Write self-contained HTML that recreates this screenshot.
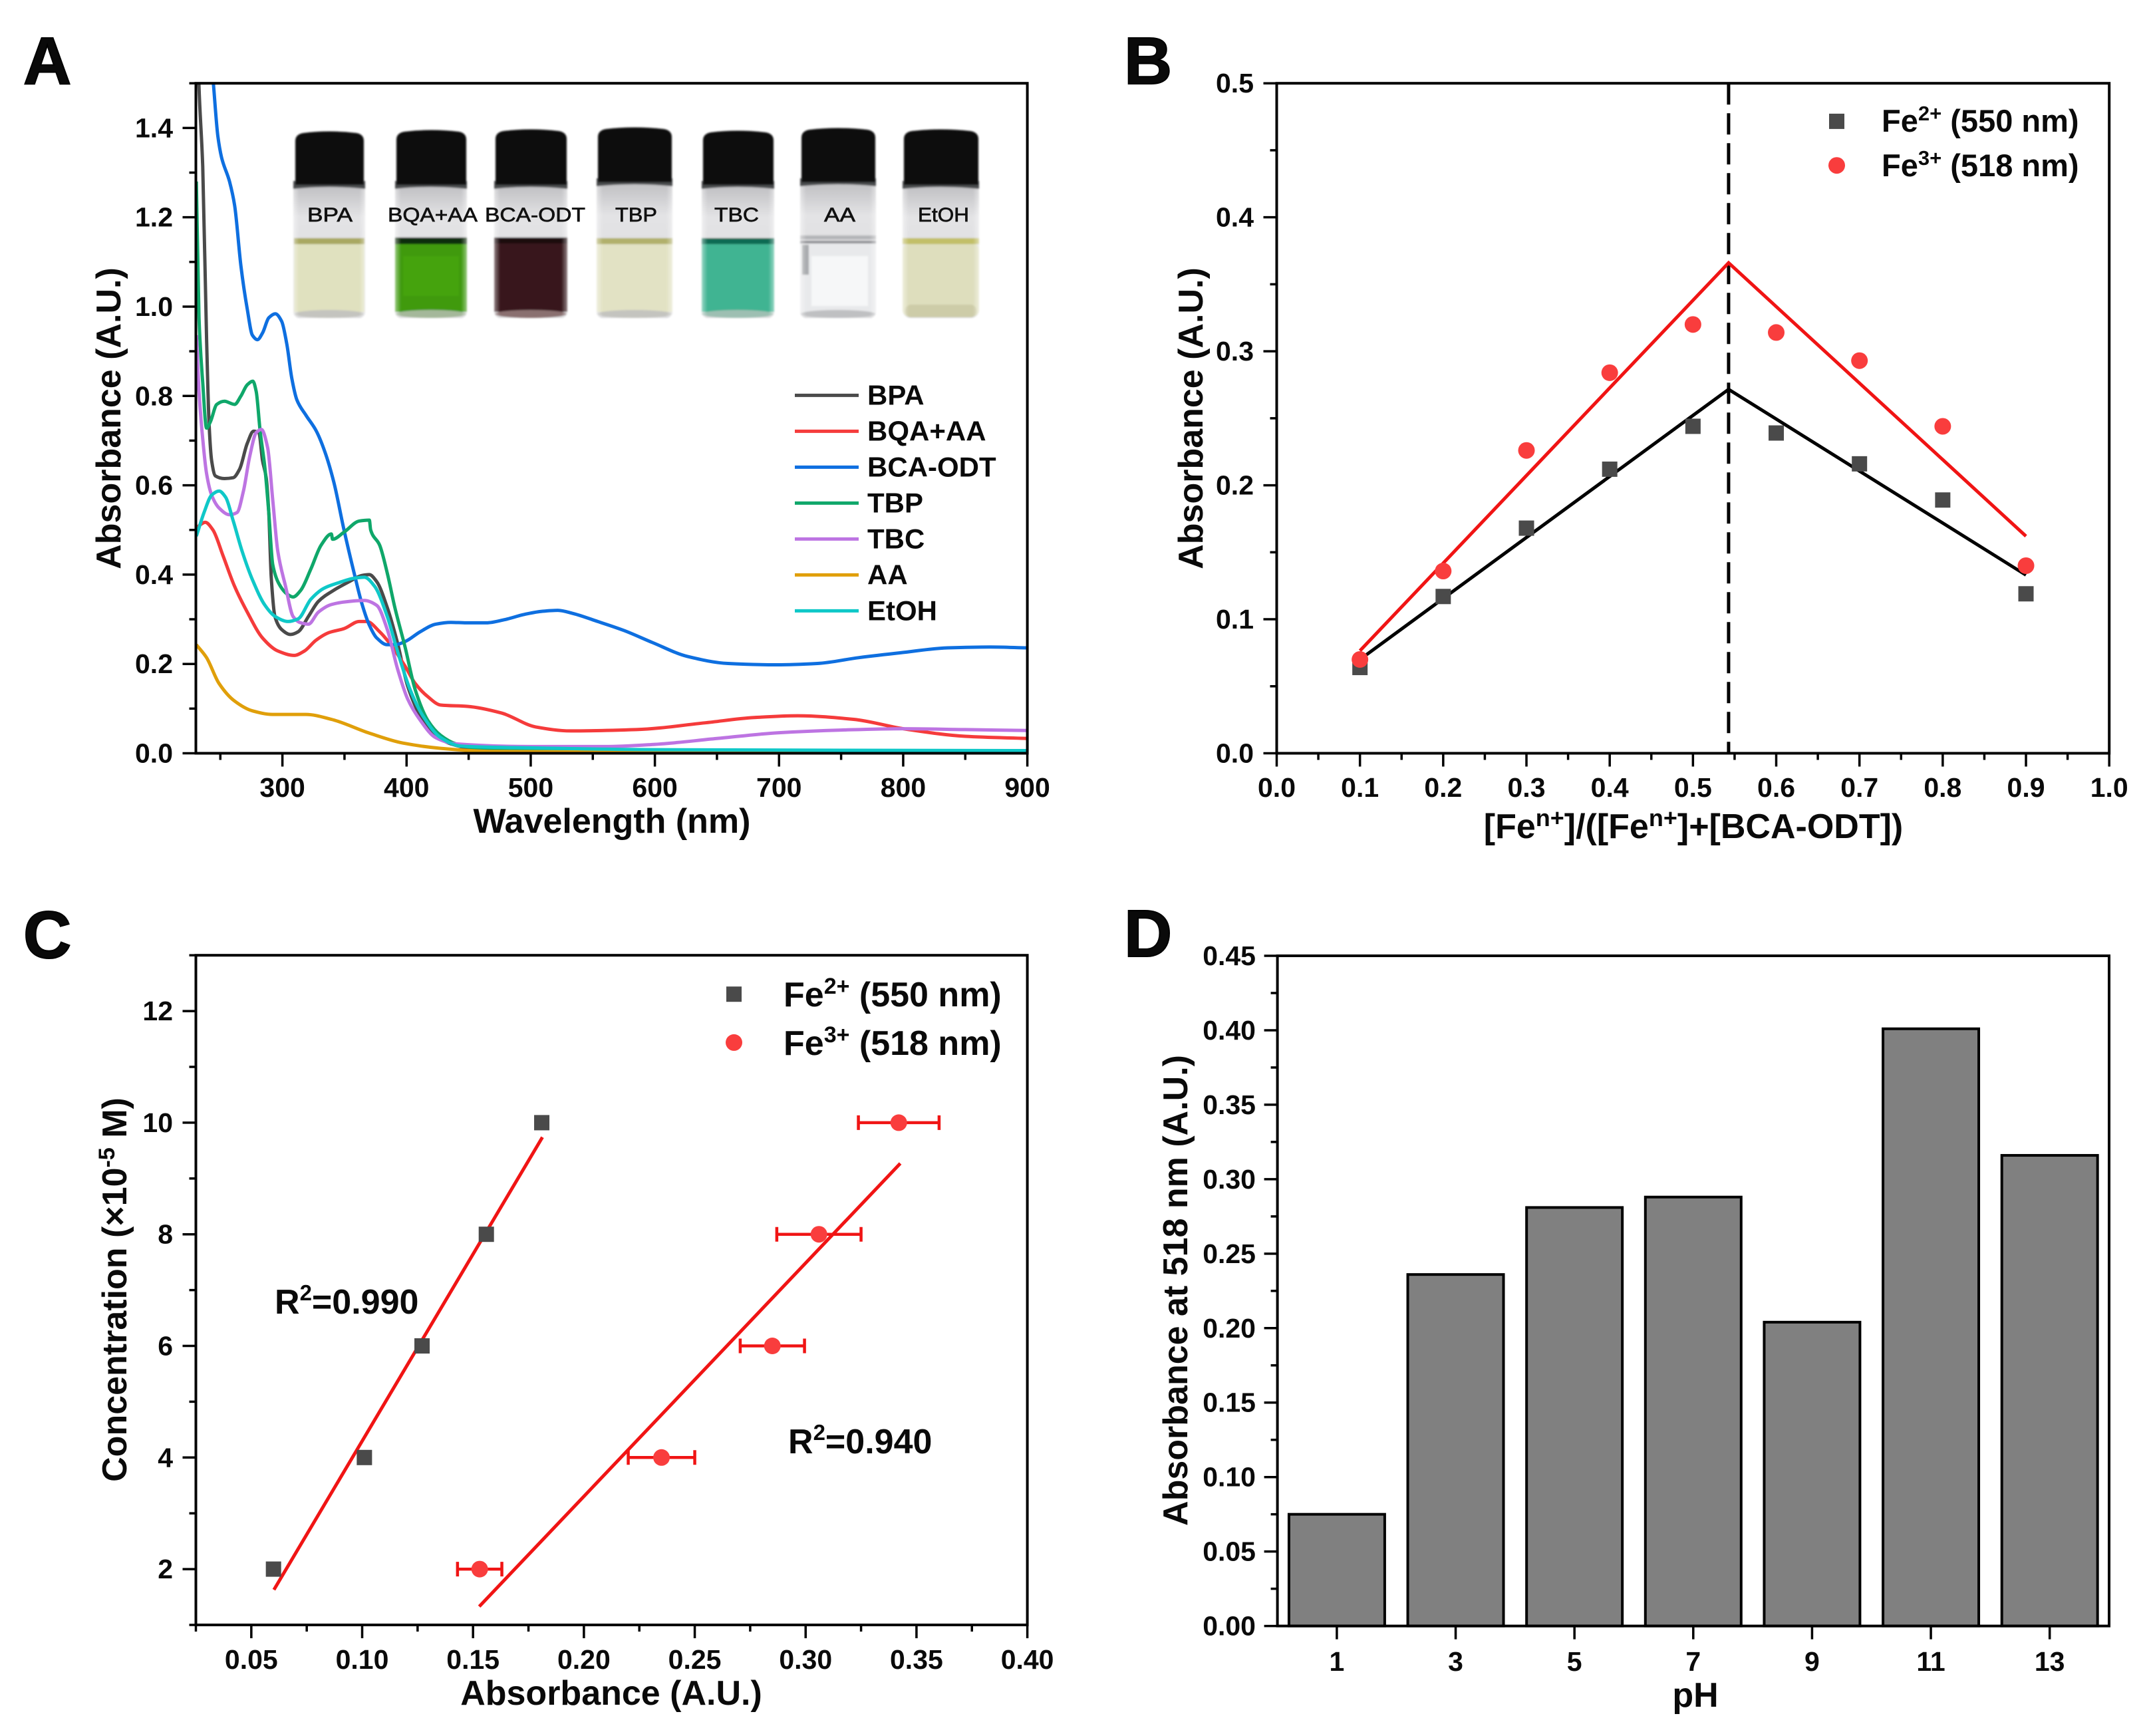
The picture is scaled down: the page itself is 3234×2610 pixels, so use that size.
<!DOCTYPE html>
<html lang="en">
<head>
<meta charset="utf-8">
<title>Absorbance figure panels A-D</title>
<style>
html,body{margin:0;padding:0;background:#fff;}
svg{display:block;}
text{font-family:"Liberation Sans",Arial,sans-serif;fill:#0a0a0a;}
.b{font-weight:700;}
.t{font-weight:700;font-size:41px;}
.l{font-weight:700;font-size:52px;}
.p{font-weight:700;font-size:100px;stroke:#000;stroke-width:2px;}
.v{font-size:30px;fill:#111;stroke:#111;stroke-width:.7px;}
.cap{fill:#0d0d0f;}
.neck{fill:#4a4b4e;}
.glass{fill:#dfdfe1;}
.base{fill:#c4c4bf;}
</style>
</head>
<body>
<svg id="fig" xmlns="http://www.w3.org/2000/svg" width="3234" height="2610" viewBox="0 0 3234 2610">
  <defs>
    <clipPath id="clipA"><rect x="294.5" y="125.2" width="1250.1" height="1007.3"/></clipPath>
    <linearGradient id="sheen" x1="0" x2="1" y1="0" y2="0">
      <stop offset="0" stop-color="#fff" stop-opacity=".45"/>
      <stop offset=".08" stop-color="#fff" stop-opacity="0"/>
      <stop offset=".92" stop-color="#fff" stop-opacity="0"/>
      <stop offset="1" stop-color="#fff" stop-opacity=".45"/>
    </linearGradient>
    <linearGradient id="head" x1="0" x2="0" y1="0" y2="1">
      <stop offset="0" stop-color="#bdbdc0"/>
      <stop offset=".25" stop-color="#e3e3e5"/>
      <stop offset="1" stop-color="#dadadc"/>
    </linearGradient>
    <filter id="soft" x="-5%" y="-5%" width="110%" height="110%"><feGaussianBlur stdDeviation="1.4"/></filter>
  </defs>
  <rect x="0" y="0" width="3234" height="2610" fill="#fff"/>

  <text class="p" x="35" y="126">A</text>
  <text class="p" x="1690" y="126">B</text>
  <text class="p" x="35" y="1440">C</text>
  <text class="p" x="1690" y="1438">D</text>

  <g id="panelA"></g>
  <g id="panelB"></g>
  <g id="panelC"></g>
  <g id="panelD"></g>

  <!-- Vial photographs, panel A inset -->
  <g>
    <g filter="url(#soft)">
      <rect x="441" y="276" width="108" height="202" rx="9" fill="url(#head)"/>
      <rect x="442" y="366" width="106" height="103" fill="#e0e1bf"/>
      <rect x="442" y="358" width="106" height="9" fill="#a9a862"/>
      <ellipse class="base" cx="495" cy="472" rx="52" ry="6"/>
      <rect x="441" y="276" width="108" height="202" rx="9" fill="url(#sheen)"/>
      <path class="neck" d="M441 272H549V284Q495 278 441 284Z"/>
      <path class="cap" d="M444 278V212Q444 202 456 200Q495 195 536 200Q547 202 547 212V278Z"/>
    </g>
    <g filter="url(#soft)">
      <rect x="594" y="276" width="108" height="202" rx="9" fill="url(#head)"/>
      <rect x="594" y="366" width="108" height="103" fill="#3f9a0f"/>
      <rect x="594" y="357" width="108" height="10" fill="#0f2d0a"/>
      <rect x="606" y="385" width="84" height="60" fill="#47a512" opacity=".8"/>
      <ellipse class="base" cx="648" cy="472" rx="53" ry="6" fill="#a4b89a" style="fill:#a4b89a"/>
      <rect x="594" y="276" width="108" height="202" rx="9" fill="url(#sheen)"/>
      <path class="neck" d="M594 272H702V284Q648 278 594 284Z"/>
      <path class="cap" d="M596 278V210Q596 200 608 198Q648 193 690 198Q701 200 701 210V278Z"/>
    </g>
    <g filter="url(#soft)">
      <rect x="743" y="276" width="110" height="202" rx="9" fill="url(#head)"/>
      <rect x="743" y="364" width="110" height="105" fill="#38191d"/>
      <rect x="743" y="357" width="110" height="9" fill="#1b0b0d"/>
      <ellipse cx="798" cy="472" rx="54" ry="6" fill="#8a6f70"/>
      <rect x="743" y="276" width="110" height="202" rx="9" fill="url(#sheen)"/>
      <path class="neck" d="M743 272H853V284Q798 278 743 284Z"/>
      <path class="cap" d="M745 278V209Q745 199 757 197Q798 192 840 197Q852 199 852 209V278Z"/>
    </g>
    <g filter="url(#soft)">
      <rect x="897" y="272" width="114" height="206" rx="9" fill="url(#head)"/>
      <rect x="897" y="366" width="114" height="103" fill="#e2e2c4"/>
      <rect x="897" y="358" width="114" height="9" fill="#b1b06c"/>
      <ellipse class="base" cx="954" cy="472" rx="56" ry="6"/>
      <rect x="897" y="272" width="114" height="206" rx="9" fill="url(#sheen)"/>
      <path class="neck" d="M897 268H1011V280Q954 274 897 280Z"/>
      <path class="cap" d="M899 274V206Q899 196 911 194Q954 189 998 194Q1010 196 1010 206V274Z"/>
    </g>
    <g filter="url(#soft)">
      <rect x="1055" y="276" width="109" height="202" rx="9" fill="url(#head)"/>
      <rect x="1055" y="366" width="109" height="103" fill="#3fb492"/>
      <rect x="1055" y="358" width="109" height="9" fill="#0e6a52"/>
      <ellipse cx="1109" cy="472" rx="54" ry="6" fill="#9dbfb2"/>
      <rect x="1055" y="276" width="109" height="202" rx="9" fill="url(#sheen)"/>
      <path class="neck" d="M1055 272H1164V284Q1109 278 1055 284Z"/>
      <path class="cap" d="M1057 278V211Q1057 201 1069 199Q1109 194 1151 199Q1163 201 1163 211V278Z"/>
    </g>
    <g filter="url(#soft)">
      <rect x="1203" y="272" width="114" height="206" rx="9" fill="url(#head)"/>
      <rect x="1203" y="366" width="114" height="105" fill="#e8e9eb"/>
      <rect x="1203" y="354" width="114" height="6" fill="#b4b5b8"/>
      <rect x="1203" y="362" width="114" height="4" fill="#8f9094"/>
      <rect x="1206" y="368" width="10" height="45" fill="#8f9094" opacity=".7"/>
      <rect x="1220" y="385" width="85" height="75" fill="#f6f7f8"/>
      <ellipse cx="1260" cy="472" rx="56" ry="6" fill="#bfc0c2"/>
      <rect x="1203" y="272" width="114" height="206" rx="9" fill="url(#sheen)"/>
      <path class="neck" d="M1203 268H1317V280Q1260 274 1203 280Z"/>
      <path class="cap" d="M1205 274V207Q1205 197 1217 195Q1260 190 1304 195Q1316 197 1316 207V274Z"/>
    </g>
    <g filter="url(#soft)">
      <rect x="1357" y="276" width="115" height="202" rx="12" fill="url(#head)"/>
      <rect x="1357" y="366" width="115" height="110" rx="10" fill="#dedebd"/>
      <rect x="1357" y="358" width="115" height="9" fill="#c2bf68"/>
      <rect x="1361" y="458" width="107" height="19" rx="9" fill="#cdcca8"/>
      <rect x="1357" y="276" width="115" height="202" rx="12" fill="url(#sheen)"/>
      <path class="neck" d="M1357 272H1472V284Q1414 278 1357 284Z"/>
      <path class="cap" d="M1359 278V209Q1359 199 1371 197Q1414 192 1459 197Q1471 199 1471 209V278Z"/>
    </g>
    <text class="v" x="462" y="333" textLength="68" lengthAdjust="spacingAndGlyphs">BPA</text>
    <text class="v" x="583" y="333" textLength="135" lengthAdjust="spacingAndGlyphs">BQA+AA</text>
    <text class="v" x="729" y="333" textLength="151" lengthAdjust="spacingAndGlyphs">BCA-ODT</text>
    <text class="v" x="925" y="333" textLength="63" lengthAdjust="spacingAndGlyphs">TBP</text>
    <text class="v" x="1074" y="333" textLength="67" lengthAdjust="spacingAndGlyphs">TBC</text>
    <text class="v" x="1239" y="333" textLength="47" lengthAdjust="spacingAndGlyphs">AA</text>
    <text class="v" x="1380" y="333" textLength="77" lengthAdjust="spacingAndGlyphs">EtOH</text>
  </g>

  <!-- Axis titles -->
  <text class="l" x="920" y="1252" text-anchor="middle">Wavelength (nm)</text>
  <text class="l" transform="translate(181,629) rotate(-90)" text-anchor="middle">Absorbance (A.U.)</text>
  <text class="l" x="2546" y="1260" text-anchor="middle">[Fe<tspan font-size="36" dy="-18">n+</tspan><tspan dy="18">]/([Fe</tspan><tspan font-size="36" dy="-18">n+</tspan><tspan dy="18">]+[BCA-ODT])</tspan></text>
  <text class="l" transform="translate(1808,629) rotate(-90)" text-anchor="middle">Absorbance (A.U.)</text>
  <text class="l" x="919" y="2563" text-anchor="middle">Absorbance (A.U.)</text>
  <text class="l" transform="translate(190,1939) rotate(-90)" text-anchor="middle">Concentration (×10<tspan font-size="34" dy="-18">-5</tspan><tspan dy="18"> M)</tspan></text>
  <text class="l" x="2549" y="2566" text-anchor="middle">pH</text>
  <text class="l" transform="translate(1785,1940) rotate(-90)" text-anchor="middle">Absorbance at 518 nm (A.U.)</text>

  <!-- Panel B legend text -->
  <text class="b" font-size="47" x="2829" y="198">Fe<tspan font-size="31" dy="-17">2+</tspan><tspan dy="17"> (550 nm)</tspan></text>
  <text class="b" font-size="47" x="2829" y="265">Fe<tspan font-size="31" dy="-17">3+</tspan><tspan dy="17"> (518 nm)</tspan></text>
  <!-- Panel C legend text -->
  <text class="b" font-size="52" x="1178" y="1513">Fe<tspan font-size="34" dy="-19">2+</tspan><tspan dy="19"> (550 nm)</tspan></text>
  <text class="b" font-size="52" x="1178" y="1586">Fe<tspan font-size="34" dy="-19">3+</tspan><tspan dy="19"> (518 nm)</tspan></text>
  <text class="l" x="413" y="1975">R<tspan font-size="33" dy="-20">2</tspan><tspan dy="20">=0.990</tspan></text>
  <text class="l" x="1185" y="2185">R<tspan font-size="33" dy="-20">2</tspan><tspan dy="20">=0.940</tspan></text>
</svg>

<script>
// ---------- Panel A data ----------
const seriesNames = ['BPA', 'BQA+AA', 'BCA-ODT', 'TBP', 'TBC', 'AA', 'EtOH'];
const bpaNm = [231,232.7,235.8,238.9,241,243,246,253.3,260.4,265.5,271.7,276.8,281,284,287,289,291,294,299.4,306.5,312.7,320.9,329,341.4,353.7,364,370,376,384.5,392.6,400.8,411,421.4,435.7,452,500,700,900];
const bpaAbs = [1.7,1.5,1.314,.927,.733,.655,.621,.615,.617,.636,.694,.721,.718,.655,.616,.539,.394,.306,.277,.266,.272,.306,.34,.365,.384,.398,.4,.384,.326,.248,.151,.084,.045,.021,.011,.005,.005,.005];
const bqaNm = [230.7,237.9,244,252.2,261.4,271.7,284,296.3,309.6,317.8,327,337.3,349.6,362,368,378.3,388.6,398.8,407,417,427.5,449,476.6,504,532,585,640,680,715,760,800,850,900];
const bqaAbs = [.505,.517,.5,.442,.374,.316,.258,.229,.219,.229,.253,.27,.279,.295,.295,.272,.238,.195,.156,.127,.108,.105,.09,.059,.05,.053,.068,.08,.084,.076,.055,.038,.033];
const bcaNm = [241,244.4,248,251,257.4,261.5,266.6,271.7,275.8,279.9,284,289,294.3,299.4,303.5,307.6,311.7,318.9,327,334.2,341.4,349.6,357.8,364,370,376,384.5,390.6,398.8,411,423.4,435.7,448,464.4,478.8,495,509.5,521.8,534,554,575,598,626,659,698,731,764,798,836,870,900];
const bcaAbs = [1.62,1.5,1.382,1.334,1.28,1.227,1.09,.994,.936,.926,.941,.975,.984,.967,.917,.839,.791,.757,.723,.675,.607,.5,.403,.335,.287,.258,.243,.243,.25,.272,.289,.293,.292,.292,.299,.311,.318,.32,.313,.295,.275,.248,.217,.201,.198,.201,.214,.225,.236,.238,.236];
const tbpNm = [230.7,232.8,235.8,238.9,242,247.1,253.3,261.5,266.6,271.7,276.2,278.9,282,286,289,292.2,297.3,304.5,308.6,314.8,323,331.2,339.4,340.4,349.6,362,370,371.1,378.3,384.5,390.6,398.8,407,417,427.5,439.8,458,550,900];
const tbpAbs = [1.28,.975,.83,.728,.742,.781,.788,.781,.8,.825,.833,.81,.723,.636,.539,.423,.379,.355,.35,.365,.413,.466,.491,.479,.495,.52,.522,.5,.466,.403,.326,.238,.142,.074,.04,.021,.011,.006,.004];
const tbcNm = [230.7,232.8,235.8,238.9,243,249,257.4,263.5,268.6,273.7,278.9,283,288.1,292.2,296.3,302.5,308.6,314.8,320.9,329,339.4,353.7,366,376,384.5,392.6,400.8,411,423.4,439.8,500,560,600,650,700,750,800,850,900];
const tbcAbs = [.936,.81,.704,.626,.578,.549,.534,.539,.587,.665,.718,.725,.684,.568,.452,.374,.306,.292,.289,.316,.333,.34,.342,.331,.277,.19,.122,.074,.035,.021,.015,.015,.02,.033,.046,.052,.055,.053,.051];
const aaNm = [230.7,238.9,249,261.4,275.8,292,318.9,339.4,370,396.8,427.5,468.5,600,900];
const aaAbs = [.243,.214,.156,.117,.095,.087,.087,.076,.045,.023,.011,.004,.002,.002];
const etohNm = [230.7,236.9,243,249,254.3,260.4,267.6,275.8,286,294.3,304.5,312.7,323,333.2,345.5,357.8,366,374.2,384.5,392.6,402.9,413.1,427.5,443.9,500,600,900];
const etohAbs = [.486,.539,.578,.587,.573,.52,.452,.389,.331,.306,.295,.301,.345,.369,.382,.392,.394,.374,.306,.229,.142,.084,.035,.016,.012,.008,.006];
const aXTicks = [300,400,500,600,700,800,900];
const aXMinor = [250,350,450,550,650,750,850];
const aYTicks = ['0.0','0.2','0.4','0.6','0.8','1.0','1.2','1.4'];
const aYMinor = [0.1,0.3,0.5,0.7,0.9,1.1,1.3,1.5];

// ---------- Panel B data ----------
const bFraction = [0.1,0.2,0.3,0.4,0.5,0.6,0.7,0.8,0.9];
const bFe2 = [0.064,0.117,0.168,0.212,0.244,0.239,0.216,0.189,0.119];
const bFe3 = [0.07,0.136,0.226,0.284,0.32,0.314,0.293,0.244,0.14];
const bFitX = [0.1,0.5428,0.9];
const bFitFe2 = [0.07,0.2716,0.133];
const bFitFe3 = [0.0765,0.366,0.162];
const bVertical = [0.5428];
const bXTicks = ['0.0','0.1','0.2','0.3','0.4','0.5','0.6','0.7','0.8','0.9','1.0'];
const bXMinor = [0.05,0.15,0.25,0.35,0.45,0.55,0.65,0.75,0.85,0.95];
const bYTicks = ['0.0','0.1','0.2','0.3','0.4','0.5'];
const bYMinor = [0.05,0.15,0.25,0.35,0.45];

// ---------- Panel C data ----------
const cConc = [2,4,6,8,10];
const cFe2 = [0.06,0.101,0.127,0.156,0.181];
const cFe3 = [0.153,0.235,0.285,0.306,0.342];
const cFe3Err = [0.01,0.015,0.0145,0.019,0.0182];
const cFitFe2X = [0.0602,0.1813];
const cFitFe2Y = [1.63,9.74];
const cFitFe3X = [0.1528,0.3427];
const cFitFe3Y = [1.33,9.27];
const cXTicks = ['0.05','0.10','0.15','0.20','0.25','0.30','0.35','0.40'];
const cXMinor = [0.025,0.075,0.125,0.175,0.225,0.275,0.325,0.375];
const cYTicks = ['2','4','6','8','10','12'];
const cYMinor = [1,3,5,7,9,11,13];

// ---------- Panel D data ----------
const dPh = [1,3,5,7,9,11,13];
const dAbs = [0.075,0.236,0.281,0.288,0.204,0.401,0.316];
const dYTicks = ['0.00','0.05','0.10','0.15','0.20','0.25','0.30','0.35','0.40','0.45'];
const dYMinor = [0.025,0.075,0.125,0.175,0.225,0.275,0.325,0.375,0.425];

const NS = 'http://www.w3.org/2000/svg';
function mk(tag, attrs, parent) {
  const el = document.createElementNS(NS, tag);
  for (const k in attrs) el.setAttribute(k, attrs[k]);
  parent.appendChild(el);
  return el;
}
function scale(d0, d1, r0, r1) {
  return function (v) { return r0 + (v - d0) * (r1 - r0) / (d1 - d0); };
}
// Monotone cubic through the points (no overshoot between readings).
function smoothPath(px, py) {
  const n = px.length;
  const s = [], m = [];
  for (let i = 0; i < n - 1; i++) s.push((py[i + 1] - py[i]) / (px[i + 1] - px[i]));
  m.push(s[0]);
  for (let i = 1; i < n - 1; i++) {
    if (s[i - 1] * s[i] <= 0) { m.push(0); continue; }
    const h0 = px[i] - px[i - 1], h1 = px[i + 1] - px[i];
    const w1 = 2 * h1 + h0, w2 = h1 + 2 * h0;
    m.push((w1 + w2) / (w1 / s[i - 1] + w2 / s[i]));
  }
  m.push(s[n - 2]);
  let d = 'M' + px[0].toFixed(1) + ' ' + py[0].toFixed(1);
  for (let i = 0; i < n - 1; i++) {
    const h = (px[i + 1] - px[i]) / 3;
    d += 'C' + (px[i] + h).toFixed(1) + ' ' + (py[i] + m[i] * h).toFixed(1) + ' ' + (px[i + 1] - h).toFixed(1) + ' ' + (py[i + 1] - m[i + 1] * h).toFixed(1) + ' ' + px[i + 1].toFixed(1) + ' ' + py[i + 1].toFixed(1);
  }
  return d;
}
function drawAxes(parent, prefix, box, xs, ys, xMajor, xLabels, xMinor, yMajor, yLabels, yMinor, xLabelY, yLabelX) {
  const ticks = mk('g', { stroke: '#000', 'stroke-width': 3.5 }, parent);
  
  
  xMajor.forEach(function (v, i) {
    const x = xs(v);
    const tick = mk('line', { x1: x, x2: x, y1: box.b, y2: box.b + 20 }, ticks);
    
    
    const label = mk('text', { x: x, y: xLabelY, 'text-anchor': 'middle', class: 't' }, parent);
    
    
    label.textContent = xLabels[i];
  });
  xMinor.forEach(function (v) {
    const x = xs(v);
    const tick = mk('line', { x1: x, x2: x, y1: box.b, y2: box.b + 10 }, ticks);
    
    
  });
  yMajor.forEach(function (v, i) {
    const y = ys(v);
    const tick = mk('line', { x1: box.l - 20, x2: box.l, y1: y, y2: y }, ticks);
    
    
    const label = mk('text', { x: yLabelX, y: y + 14, 'text-anchor': 'end', class: 't' }, parent);
    
    
    label.textContent = yLabels[i];
  });
  yMinor.forEach(function (v) {
    const y = ys(v);
    const tick = mk('line', { x1: box.l - 10, x2: box.l, y1: y, y2: y }, ticks);
    
    
  });
}
function drawFrame(parent, prefix, box) {
  const frame = mk('rect', { x: box.l, y: box.t, width: box.r - box.l, height: box.b - box.t, fill: 'none', stroke: '#000', 'stroke-width': 4 }, parent);
  
  
}
function square(parent, cx, cy, color) {
  return mk('rect', { x: cx - 11.5, y: cy - 11.5, width: 23, height: 23, fill: color }, parent);
}
function circle(parent, cx, cy, color) {
  return mk('circle', { cx: cx, cy: cy, r: 12.5, fill: color }, parent);
}

const GRAY = '#4a4a4a', RED = '#f93d3d', LINE_RED = '#f01414';

// ---------- Panel A ----------
(function () {
  const root = document.getElementById('panelA');
  const box = { l: 294.5, r: 1544.6, t: 125.2, b: 1132.5 };
  const x = scale(230.3, 900, box.l, box.r);
  const y = scale(0, 1.5, box.b, box.t);
  drawAxes(root, 'panel-a', box, x, y, aXTicks, aXTicks.map(String), aXMinor,
    aYTicks.map(Number), aYTicks, aYMinor, 1198, 260);
  const colors = ['#4a4a4a', '#f53b3b', '#0e6fe0', '#0fa76a', '#bd74e2', '#e09f0a', '#0fc8c8'];
  const nms = [bpaNm, bqaNm, bcaNm, tbpNm, tbcNm, aaNm, etohNm];
  const vals = [bpaAbs, bqaAbs, bcaAbs, tbpAbs, tbcAbs, aaAbs, etohAbs];
  const curves = mk('g', { 'clip-path': 'url(#clipA)', fill: 'none', 'stroke-width': 5, 'stroke-linejoin': 'round' }, root);
  
  
  seriesNames.forEach(function (name, i) {
    const line = mk('path', { d: smoothPath(nms[i].map(x), vals[i].map(y)), stroke: colors[i] }, curves);
    
    
    const rowY = 594.4 + i * 54;
    const key = mk('line', { x1: 1195, x2: 1291, y1: rowY, y2: rowY, stroke: colors[i], 'stroke-width': 5 }, root);
    
    
    const label = mk('text', { x: 1304, y: rowY + 14, class: 'b', 'font-size': 42 }, root);
    
    
    label.textContent = name;
  });
  drawFrame(root, 'panel-a', box);
})();

// ---------- Panel B ----------
(function () {
  const root = document.getElementById('panelB');
  const box = { l: 1919.5, r: 3171.2, t: 125.2, b: 1132.5 };
  const x = scale(0, 1, box.l, box.r);
  const y = scale(0, 0.5, box.b, box.t);
  drawAxes(root, 'panel-b', box, x, y, bXTicks.map(Number), bXTicks, bXMinor,
    bYTicks.map(Number), bYTicks, bYMinor, 1198, 1885);
  const dash = mk('line', { x1: x(bVertical[0]), x2: x(bVertical[0]), y1: box.t, y2: box.b, stroke: '#000', 'stroke-width': 5, 'stroke-dasharray': '32 13' }, root);
  
  
  const fit2 = mk('polyline', { points: bFitX.map(function (v, i) { return x(v) + ',' + y(bFitFe2[i]); }).join(' '), fill: 'none', stroke: '#000', 'stroke-width': 5 }, root);
  
  
  const fit3 = mk('polyline', { points: bFitX.map(function (v, i) { return x(v) + ',' + y(bFitFe3[i]); }).join(' '), fill: 'none', stroke: LINE_RED, 'stroke-width': 5 }, root);
  
  
  bFraction.forEach(function (f, i) {
    const s = square(root, x(f), y(bFe2[i]), GRAY);
    
    
  });
  bFraction.forEach(function (f, i) {
    const c = circle(root, x(f), y(bFe3[i]), RED);
    
    
  });
  const k1 = square(root, 2761.5, 182.4, GRAY);
  
  
  const k2 = circle(root, 2761.5, 248.7, RED);
  
  
  drawFrame(root, 'panel-b', box);
})();

// ---------- Panel C ----------
(function () {
  const root = document.getElementById('panelC');
  const box = { l: 294.5, r: 1544.6, t: 1436.2, b: 2443 };
  const x = scale(0.025, 0.4, box.l, box.r);
  const y = scale(1, 13, box.b, box.t);
  drawAxes(root, 'panel-c', box, x, y, cXTicks.map(Number), cXTicks, cXMinor,
    cYTicks.map(Number), cYTicks, cYMinor, 2509, 260);
  const f2 = mk('line', { x1: x(cFitFe2X[0]), x2: x(cFitFe2X[1]), y1: y(cFitFe2Y[0]), y2: y(cFitFe2Y[1]), stroke: LINE_RED, 'stroke-width': 5 }, root);
  
  
  const f3 = mk('line', { x1: x(cFitFe3X[0]), x2: x(cFitFe3X[1]), y1: y(cFitFe3Y[0]), y2: y(cFitFe3Y[1]), stroke: LINE_RED, 'stroke-width': 5 }, root);
  
  
  cConc.forEach(function (c, i) {
    const s = square(root, x(cFe2[i]), y(c), GRAY);
    
    
    const yy = y(c);
    const x0 = x(cFe3[i] - cFe3Err[i]), x1 = x(cFe3[i] + cFe3Err[i]);
    const err = mk('path', { d: 'M' + x0 + ' ' + (yy - 11) + 'V' + (yy + 11) + 'M' + x0 + ' ' + yy + 'H' + x1 + 'M' + x1 + ' ' + (yy - 11) + 'V' + (yy + 11), fill: 'none', stroke: LINE_RED, 'stroke-width': 4.5 }, root);
    
    
    const p = circle(root, x(cFe3[i]), yy, RED);
    
    
  });
  const k1 = square(root, 1103.5, 1494.7, GRAY);
  
  
  const k2 = circle(root, 1103.5, 1567.4, RED);
  
  
  drawFrame(root, 'panel-c', box);
})();

// ---------- Panel D ----------
(function () {
  const root = document.getElementById('panelD');
  const box = { l: 1920.6, r: 3171, t: 1437, b: 2444.6 };
  const x = scale(0, 14, box.l, box.r);
  const y = scale(0, 0.45, box.b, box.t);
  drawAxes(root, 'panel-d', box, x, y, dPh, dPh.map(String), [],
    dYTicks.map(Number), dYTicks, dYMinor, 2512, 1888);
  const half = (x(1.612) - x(0)) / 2;
  dPh.forEach(function (ph, i) {
    const bar = mk('rect', { x: x(ph) - half, y: y(dAbs[i]), width: half * 2, height: y(0) - y(dAbs[i]), fill: '#808080', stroke: '#000', 'stroke-width': 4 }, root);
    
    
  });
  drawFrame(root, 'panel-d', box);
})();
</script>
</body>
</html>
